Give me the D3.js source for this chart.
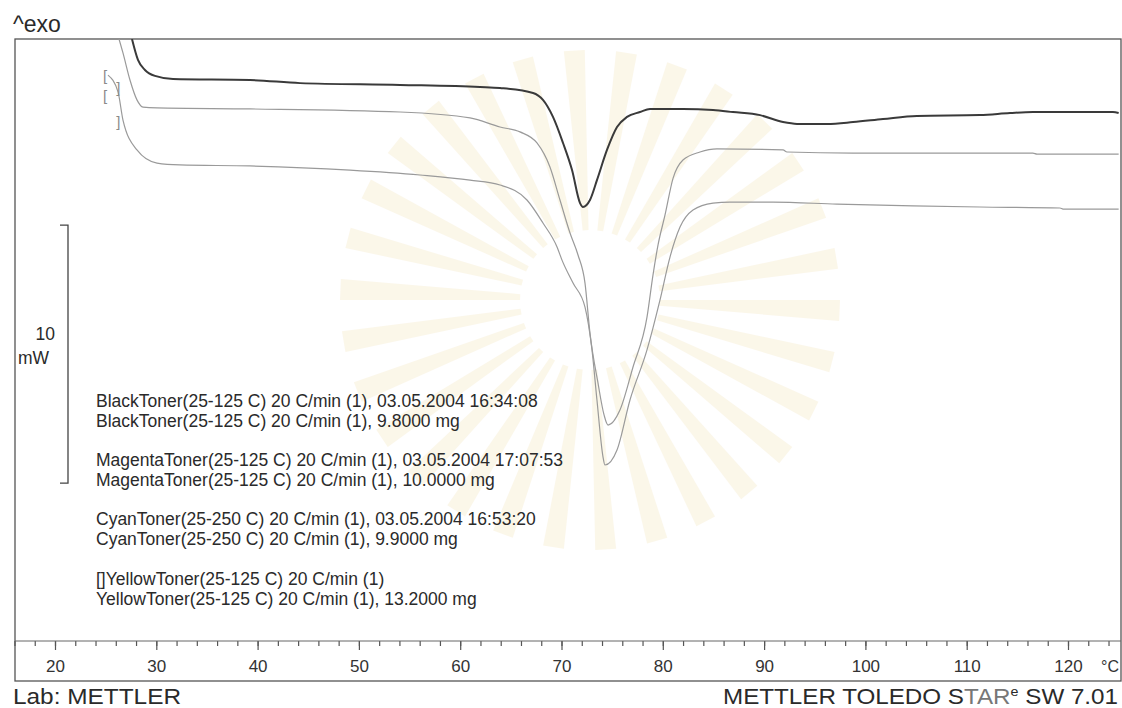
<!DOCTYPE html>
<html><head><meta charset="utf-8">
<script src="https://cdn.jsdelivr.net/npm/d3@7"></script>
<style>
body{margin:0;background:#fff;}
svg{display:block;}
text{font-family:"Liberation Sans", Arial, sans-serif;fill:#2a2a2a;}
</style>
</head><body>
<svg id="c" width="1122" height="708"></svg>
<script>
// ---------- data ----------
const blackTemp = [27.6, 28.19, 28.88, 29.87, 31.65, 39.25, 44.19, 54.06, 61.95, 63.93, 67.19, 68.17, 69.16, 70.15, 71.04, 71.83, 72.12, 72.81, 73.50, 74.49, 75.48, 76.47, 77.75, 78.74, 81.99, 84.96, 86.93, 89.60, 91.87, 93.25, 96.21, 98.78, 101.74, 105.09, 111.31, 114.27, 116.54, 124.44, 125.0];
const blackMW   = [0, -0.81, -1.20, -1.43, -1.55, -1.59, -1.71, -1.78, -1.86, -1.90, -2.09, -2.36, -3.02, -4.03, -5.08, -6.36, -6.51, -6.24, -5.47, -4.30, -3.41, -3.02, -2.83, -2.71, -2.71, -2.75, -2.83, -2.95, -3.22, -3.29, -3.29, -3.22, -3.10, -2.98, -2.95, -2.87, -2.83, -2.83, -2.87];

const magentaTemp = [26.32, 26.71, 27.40, 28.09, 28.69, 30.07, 39.25, 54.06, 60.97, 63.93, 65.90, 67.58, 68.86, 69.85, 70.84, 71.63, 72.32, 72.81, 73.60, 74.20, 74.59, 75.77, 77.06, 78.44, 79.03, 79.53, 80.22, 81.01, 81.99, 83.67, 85.35, 91.87, 92.26, 98.78, 116.54, 116.94, 125.0];
const magentaMW   = [0, -0.54, -1.59, -2.36, -2.64, -2.67, -2.71, -2.83, -3.06, -3.41, -3.60, -4.03, -4.96, -6.24, -7.52, -8.37, -9.46, -11.40, -13.33, -14.57, -14.96, -14.38, -12.71, -10.78, -9.15, -7.98, -6.82, -5.40, -4.69, -4.38, -4.26, -4.30, -4.38, -4.42, -4.42, -4.46, -4.46];

const cyanTemp = [25.23, 26.22, 26.71, 28.09, 30.07, 32.34, 39.25, 49.12, 56.03, 60.97, 63.93, 66.59, 68.17, 69.56, 70.05, 71.14, 72.32, 73.01, 73.50, 74.10, 74.29, 75.48, 76.76, 78.44, 79.72, 80.71, 81.70, 82.98, 84.96, 86.63, 90.88, 97.20, 104.70, 111.31, 119.21, 119.51, 125.0];
const cyanMW   = [-1.40, -2.05, -3.14, -4.30, -4.81, -4.88, -4.92, -5.08, -5.27, -5.47, -5.66, -6.24, -7.13, -8.06, -8.57, -9.46, -10.39, -12.05, -13.99, -16.20, -16.51, -15.93, -13.99, -12.05, -10.12, -8.45, -7.29, -6.63, -6.36, -6.32, -6.32, -6.40, -6.47, -6.51, -6.55, -6.59, -6.59];

const majorTicks = [20, 30, 40, 50, 60, 70, 80, 90, 100, 110, 120];
const minorTicks = d3.range(16, 126, 2);
const xUnit = "°C";

const scaleBarTopMW = -7.21;
const scaleBarMW = 10;
const scaleBarLabel = ["10", "mW"];

const bracketSyms = ["[", "]", "[", "]"];
const bracketTemp = [24.95, 26.25, 24.95, 26.25];
const bracketMW   = [-1.47, -1.94, -2.25, -3.26];

const legendLines = [
  ["BlackToner(25-125 C) 20 C/min (1), 03.05.2004 16:34:08", "BlackToner(25-125 C) 20 C/min (1), 9.8000 mg"],
  ["MagentaToner(25-125 C) 20 C/min (1), 03.05.2004 17:07:53", "MagentaToner(25-125 C) 20 C/min (1), 10.0000 mg"],
  ["CyanToner(25-250 C) 20 C/min (1), 03.05.2004 16:53:20", "CyanToner(25-250 C) 20 C/min (1), 9.9000 mg"],
  ["[]YellowToner(25-125 C) 20 C/min (1)", "YellowToner(25-125 C) 20 C/min (1), 13.2000 mg"]
];

// ---------- layout ----------
const svg = d3.select("#c");
const frame = {x0: 15, y0: 39, x1: 1121, y1: 681};
const x = d3.scaleLinear().domain([20, 120]).range([55, 1068]);
const y = d3.scaleLinear().domain([-24.88, 0]).range([frame.y1, frame.y0]);

// very faint watermark rays (scan background)
const wm = svg.append("g").attr("transform", "translate(590,300)").attr("opacity", 0.28);
const nR = 30;
for (let i = 0; i < nR; i++) {
  const a0 = (i / nR) * 2 * Math.PI, a1 = a0 + Math.PI / nR * 0.8;
  const r0 = 70, r1 = 250;
  wm.append("path")
    .attr("d", `M${r0*Math.cos(a0)},${r0*Math.sin(a0)}L${r1*Math.cos(a0)},${r1*Math.sin(a0)}L${r1*Math.cos(a1)},${r1*Math.sin(a1)}L${r0*Math.cos(a1)},${r0*Math.sin(a1)}Z`)
    .attr("fill", "#f3e3b4");
}

// frame
svg.append("rect").attr("x", frame.x0).attr("y", frame.y0)
  .attr("width", frame.x1 - frame.x0).attr("height", frame.y1 - frame.y0)
  .attr("fill", "none").attr("stroke", "#555").attr("stroke-width", 1.3);

svg.append("clipPath").attr("id", "clip").append("rect")
  .attr("x", frame.x0).attr("y", frame.y0)
  .attr("width", frame.x1 - frame.x0).attr("height", frame.y1 - frame.y0);

// curves
const line = d3.line().x(d => x(d[0])).y(d => y(d[1])).curve(d3.curveMonotoneX);
const plot = svg.append("g").attr("clip-path", "url(#clip)");
const series = [
  {t: cyanTemp, v: cyanMW, c: "#9a9a9a", w: 1.2},
  {t: magentaTemp, v: magentaMW, c: "#9a9a9a", w: 1.2},
  {t: blackTemp, v: blackMW, c: "#3a3a3a", w: 2}
];
series.forEach(s => {
  plot.append("path").datum(d3.zip(s.t, s.v)).attr("d", line)
    .attr("fill", "none").attr("stroke", s.c).attr("stroke-width", s.w)
    .attr("stroke-linejoin", "round");
});

// bracket markers
bracketSyms.forEach((s, i) => {
  svg.append("text").attr("x", x(bracketTemp[i])).attr("y", y(bracketMW[i]))
    .attr("dominant-baseline", "middle").attr("text-anchor", "middle")
    .attr("font-size", 15).style("fill", "#8a8a8a").text(s);
});

// x axis
const axisY = 641;
const minorAxis = d3.axisBottom(x).tickValues(minorTicks).tickSize(5).tickFormat("");
const majorAxis = d3.axisBottom(x).tickValues(majorTicks).tickSize(9).tickFormat(d3.format("d"));
const gMinor = svg.append("g").attr("transform", `translate(0,${axisY})`).call(minorAxis);
const gMajor = svg.append("g").attr("transform", `translate(0,${axisY})`).call(majorAxis);
[gMinor, gMajor].forEach(g => {
  g.select(".domain").remove();
  g.selectAll(".tick line").attr("stroke", "#555").attr("stroke-width", 1.2);
});
gMajor.selectAll(".tick text").attr("y", 31).attr("dy", 0)
  .attr("font-size", 17).style("fill", "#333")
  .style("font-family", "'Liberation Sans', Arial, sans-serif");
svg.append("line").attr("x1", frame.x0).attr("x2", frame.x1)
  .attr("y1", axisY).attr("y2", axisY).attr("stroke", "#666").attr("stroke-width", 1);
svg.append("text").attr("x", 1110).attr("y", axisY + 31).attr("text-anchor", "middle")
  .attr("font-size", 16).style("fill", "#333").text(xUnit);

// scale bar
const sbTop = y(scaleBarTopMW), sbBot = y(scaleBarTopMW - scaleBarMW), sbX = 68;
svg.append("path")
  .attr("d", `M${sbX - 8},${sbTop}H${sbX}V${sbBot}H${sbX - 8}`)
  .attr("fill", "none").attr("stroke", "#444").attr("stroke-width", 1.3);
const sbMid = (sbTop + sbBot) / 2;
svg.append("text").attr("x", 55).attr("y", sbMid - 14).attr("text-anchor", "end")
  .attr("font-size", 17.5).text(scaleBarLabel[0]);
svg.append("text").attr("x", 18).attr("y", sbMid + 10)
  .attr("font-size", 17.5).text(scaleBarLabel[1]);

// legend text
const legBase = [407, 466, 525, 585];
legendLines.forEach((pair, i) => {
  pair.forEach((s, j) => {
    svg.append("text").attr("x", 96).attr("y", legBase[i] + j * 20)
      .attr("font-size", 17.5).text(s);
  });
});

// header / footer
svg.append("text").attr("x", 13).attr("y", 32).attr("font-size", 23).text("^exo");
svg.append("text").attr("x", 13).attr("y", 704).attr("font-size", 22)
  .attr("textLength", 168).attr("lengthAdjust", "spacingAndGlyphs").text("Lab: METTLER");
const ft = svg.append("text").attr("x", 723).attr("y", 704).attr("font-size", 22)
  .attr("textLength", 395).attr("lengthAdjust", "spacingAndGlyphs");
ft.append("tspan").text("METTLER TOLEDO S");
ft.append("tspan").style("fill", "#777").text("TAR");
ft.append("tspan").attr("font-size", 13).attr("dy", -8).text("e");
ft.append("tspan").attr("dy", 8).text(" SW 7.01");
</script>
</body></html>
